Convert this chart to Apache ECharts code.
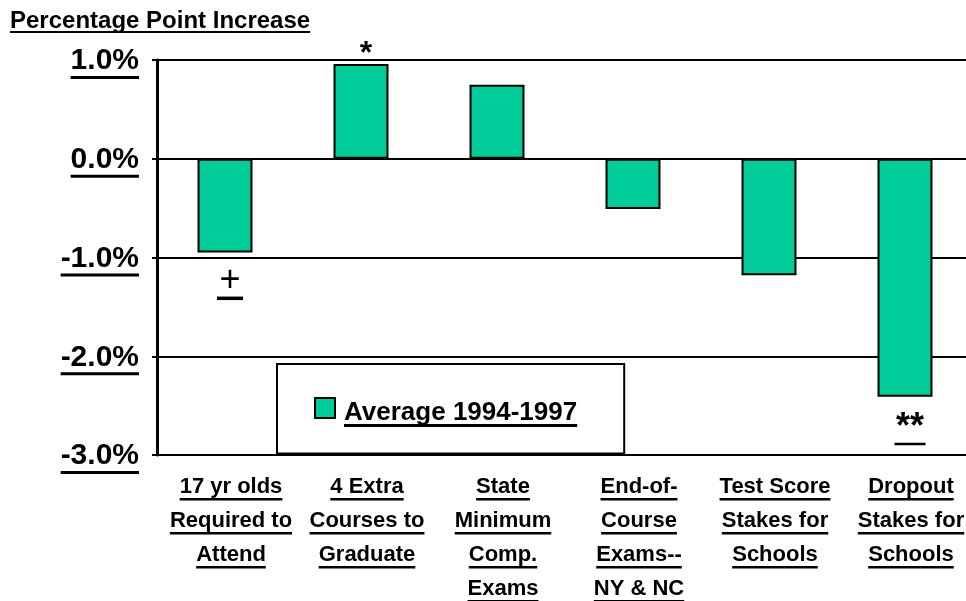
<!DOCTYPE html>
<html>
<head>
<meta charset="utf-8">
<script src="https://cdn.jsdelivr.net/npm/echarts@6/dist/echarts.min.js"></script>
<style>
  html, body { margin: 0; padding: 0; background: #fff; }
  #chart { width: 966px; height: 601px; }
</style>
</head>
<body>
<div id="chart"></div>
<script>
// chart data
const categories = [
  '17 yr olds\nRequired to\nAttend',
  '4 Extra\nCourses to\nGraduate',
  'State\nMinimum\nComp.\nExams',
  'End-of-\nCourse\nExams--\nNY & NC',
  'Test Score\nStakes for\nSchools',
  'Dropout\nStakes for\nSchools'
]
const values = [-0.95, 0.96, 0.75, -0.51, -1.18, -2.41]
const notes = ['+', '*', '', '', '', '**']
const notesUnderlined = [true, false, false, false, false, true]
const yTickLabels = ['-3.0%', '-2.0%', '-1.0%', '0.0%', '1.0%']
const yMin = -3
const yMax = 1
const seriesName = 'Average 1994-1997'
const yTitle = 'Percentage Point Increase'

const SANS = '"Liberation Sans", Arial, sans-serif'

// text width, used for the underlines
const ctx = document.createElement('canvas').getContext('2d')
function measure(text, font) {
  ctx.font = font
  return ctx.measureText(text).width
}
function underline(width, h, lh) {
  return { width: width, height: h, lineHeight: lh, backgroundColor: '#000', verticalAlign: 'top' }
}

// y axis labels
const yFont = 'bold 30px ' + SANS
const yRich = { t: { fontFamily: SANS, fontWeight: 'bold', fontSize: 30, lineHeight: 30, color: '#000' } }
yTickLabels.forEach((s, i) => { yRich['u' + i] = underline(measure(s, yFont), 3, 6) })

// category labels
const xFont = 'bold 22px ' + SANS
const xRich = { t: { fontFamily: SANS, fontWeight: 'bold', fontSize: 22, lineHeight: 22, color: '#000' } }
const lineKeys = {}
categories.forEach(c => c.split('\n').forEach(line => {
  if (!(line in lineKeys)) {
    const k = 'c' + Object.keys(lineKeys).length
    lineKeys[line] = k
    xRich[k] = underline(measure(line, xFont), 2.5, 12)
  }
}))

// title and legend
const titleFont = 'bold 24px ' + SANS
const legendFont = 'bold 26px ' + SANS

// bar notes
function noteLabel(i) {
  const up = values[i] >= 0
  const star = notes[i].indexOf('*') >= 0
  const rich = {
    s: star
      ? { fontFamily: SANS, fontWeight: 'bold', fontSize: up ? 32 : 36, lineHeight: up ? 20 : 30, color: '#000' }
      : { fontFamily: SANS, fontSize: 36, lineHeight: 31, color: '#000' },
    u: underline(star ? 31 : 26, star ? 2.5 : 3.5, 4)
  }
  return {
    show: true,
    position: up ? 'top' : 'bottom',
    distance: up ? 0 : (star ? 16 : 13),
    offset: [5, 0],
    formatter: '{s|' + notes[i] + '}' + (notesUnderlined[i] ? '\n{u|}' : ''),
    rich: rich
  }
}

const chart = echarts.init(document.getElementById('chart'))
chart.setOption({
  animation: false,
  backgroundColor: '#fff',
  title: {
    text: '{t|' + yTitle + '}\n{u|}',
    left: 10,
    top: 11,
    padding: 0,
    textStyle: {
      rich: {
        t: { fontFamily: SANS, fontWeight: 'bold', fontSize: 24, lineHeight: 20, color: '#000' },
        u: underline(measure(yTitle, titleFont), 2, 4)
      }
    }
  },
  legend: {
    data: [{ name: seriesName, icon: 'rect' }],
    left: 277,
    top: 364,
    itemWidth: 20,
    itemHeight: 20,
    padding: [22, 47, 22, 37],
    borderColor: '#000',
    borderWidth: 2,
    backgroundColor: '#fff',
    selectedMode: false,
    formatter: name => '{sp|}\n{g|}{t|' + name + '}\n{g|}{u|}',
    textStyle: {
      rich: {
        sp: { width: 1, height: 16, lineHeight: 16, fontSize: 1 },
        g: { width: 4, height: 1, lineHeight: 1, fontSize: 1 },
        t: { fontFamily: SANS, fontWeight: 'bold', fontSize: 26, lineHeight: 22, color: '#000' },
        u: underline(measure(seriesName, legendFont), 3, 6)
      }
    }
  },
  grid: { left: 157, top: 60, width: 816, height: 395, outerBoundsMode: 'none' },
  xAxis: [
    {
      type: 'category',
      data: categories,
      position: 'bottom',
      axisLine: { onZero: false, lineStyle: { color: '#000', width: 2 } },
      axisTick: { length: 8, lineStyle: { color: '#000', width: 2 } },
      axisLabel: {
        interval: 0,
        margin: 21,
        padding: [0, 0, 0, 12],
        formatter: v => v.split('\n').map(line => '{t|' + line + '}\n{' + lineKeys[line] + '|}').join('\n'),
        rich: xRich
      },
      splitLine: { show: false }
    },
    {
      type: 'category',
      data: categories,
      position: 'bottom',
      axisLine: { onZero: true, lineStyle: { color: '#000', width: 2 } },
      axisTick: { length: 8, lineStyle: { color: '#000', width: 2 } },
      axisLabel: { show: false },
      splitLine: { show: false }
    }
  ],
  yAxis: {
    type: 'value',
    min: yMin,
    max: yMax,
    interval: 1,
    axisLine: { show: true, lineStyle: { color: '#000', width: 3 } },
    axisTick: { show: true, length: 5, lineStyle: { color: '#000', width: 2 } },
    axisLabel: {
      margin: 18,
      padding: [8, 0, 0, 0],
      formatter: v => {
        const i = Math.round(v - yMin)
        return '{t|' + yTickLabels[i] + '}\n{u' + i + '|}'
      },
      rich: yRich
    },
    splitLine: { show: true, lineStyle: { color: '#000', width: 2 } }
  },
  series: [
    {
      name: seriesName,
      type: 'bar',
      xAxisIndex: 0,
      barWidth: 55,
      itemStyle: { color: '#00CC99', borderColor: '#000', borderWidth: 2 },
      data: values.map((v, i) => notes[i] ? { value: v, label: noteLabel(i) } : v)
    }
  ]
})
</script>
</body>
</html>
